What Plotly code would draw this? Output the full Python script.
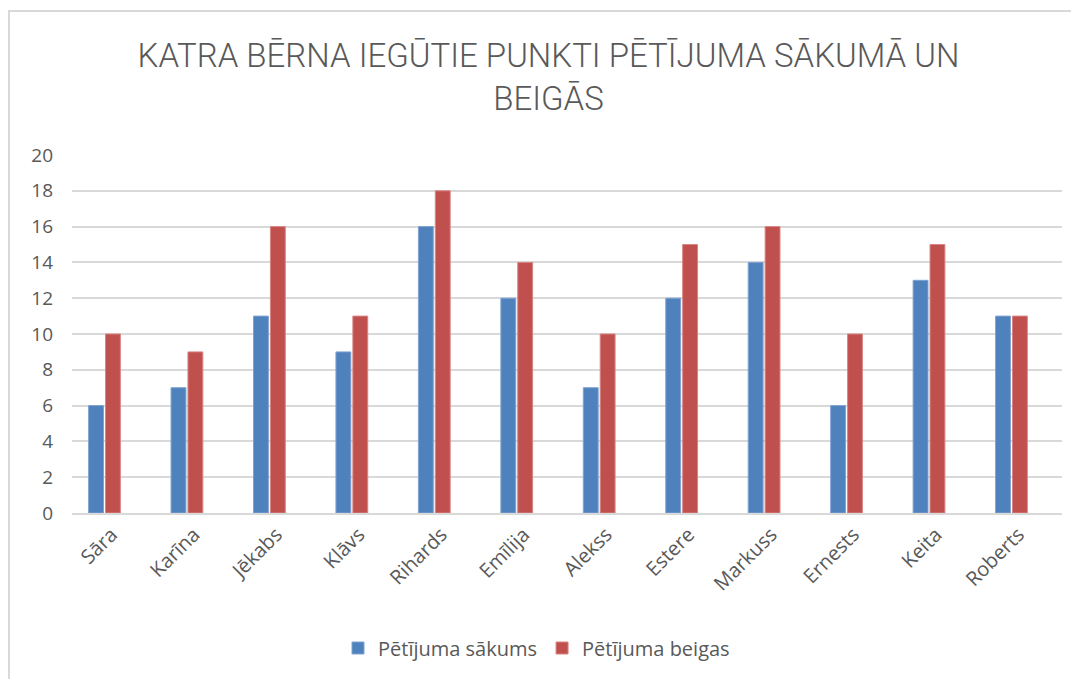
import plotly.graph_objects as go

names = ["Sāra", "Karīna", "Jēkabs", "Klāvs", "Rihards", "Emīlija", "Alekss",
         "Estere", "Markuss", "Ernests", "Keita", "Roberts"]
start_vals = [6, 7, 11, 9, 16, 12, 7, 12, 14, 6, 13, 11]
end_vals = [10, 9, 16, 11, 18, 14, 10, 15, 16, 10, 15, 11]
y_ticks = list(range(0, 21, 2))

# page body adds an 8px offset; figure coords = screen coords - 8
OFF = 8
W, H = 1079, 679
L, R, T, B = 72 - OFF, 1062 - OFF, 155 - OFF, 513 - OFF

fig = go.Figure()
fig.add_trace(go.Bar(x=list(range(len(names))), y=start_vals, name="Pētījuma sākums",
                     marker=dict(color="#4F81BD", line=dict(color="#7fa3d1", width=1))))
fig.add_trace(go.Bar(x=list(range(len(names))), y=end_vals, name="Pētījuma beigas",
                     marker=dict(color="#C0504D", line=dict(color="#d98583", width=1))))

def px(xs):
    return (xs - OFF - L) / (R - L)

def py(ys):
    return (B - (ys - OFF)) / (B - T)

fig.update_layout(
    width=W, height=H,
    margin=dict(l=L, r=W - R, t=T, b=H - B, pad=0),
    paper_bgcolor="white", plot_bgcolor="white",
    barmode="group", bargap=0.59, bargroupgap=0.12,
    font=dict(family="Open Sans", color="#595959", size=18),
    title=dict(text="KATRA BĒRNA IEGŪTIE PUNKTI PĒTĪJUMA SĀKUMĀ UN<br>BEIGĀS",
               x=(548.5 - OFF) / W, xanchor="center", xref="container",
               y=1 - (67 - OFF) / H, yref="container", yanchor="middle",
               font=dict(family="Roboto, sans-serif", size=33, color="#595959", weight=300)),
    xaxis=dict(range=[-0.394, 11.613], tickmode="array", tickvals=list(range(len(names))),
               ticktext=names, tickangle=-45, showgrid=False, showline=True,
               linecolor="#d9d9d9", linewidth=2, ticks="", zeroline=False,
               ticklabelshift=7, tickfont=dict(size=20, color="#595959")),
    yaxis=dict(range=[0, 20], tickmode="array", tickvals=y_ticks, showgrid=True,
               gridcolor="#d9d9d9", gridwidth=2, zeroline=False, showline=False,
               ticks="", ticklabelstandoff=18, tickfont=dict(size=19, color="#595959")),
    legend=dict(orientation="h", x=px(536.5), xanchor="center", y=py(648), yanchor="middle",
                font=dict(size=20, color="#595959"), itemwidth=30),
    showlegend=True,
    shapes=[
        dict(type="line", xref="paper", yref="paper", x0=px(9), x1=px(9), y0=py(11), y1=py(720),
             line=dict(color="#d9d9d9", width=2)),
        dict(type="line", xref="paper", yref="paper", x0=px(8), x1=px(1120), y0=py(11), y1=py(11),
             line=dict(color="#d9d9d9", width=2)),
    ],
)

fig.write_html("out.html")
